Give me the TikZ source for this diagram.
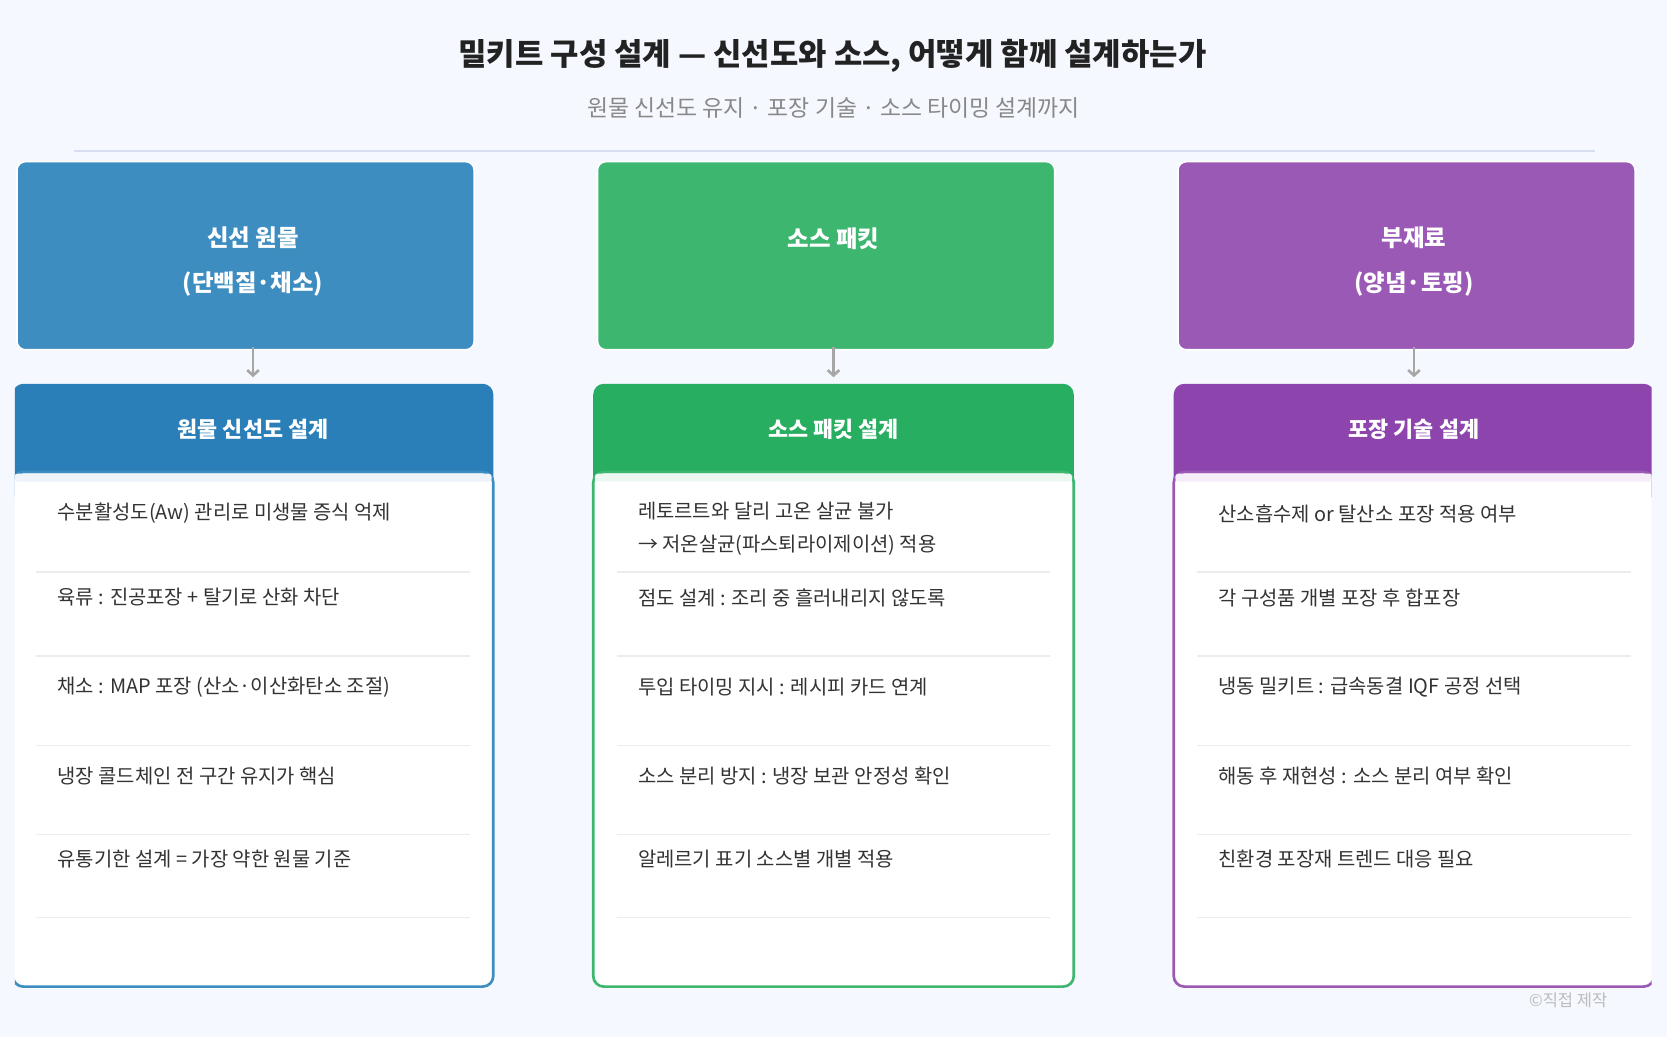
\documentclass[tikz,border=0pt]{standalone}
\usepackage{fontspec}
\setmainfont{Noto Sans CJK KR}
\usetikzlibrary{arrows.meta}
\definecolor{bgc}{HTML}{F5F8FE}
\definecolor{ttlc}{HTML}{222222}
\definecolor{subc}{HTML}{888888}
\definecolor{sepc}{HTML}{D6DEF0}
\definecolor{txtc}{HTML}{333333}
\definecolor{rowc}{HTML}{ECECEC}
\definecolor{arrc}{HTML}{A6A6A6}
\definecolor{footc}{HTML}{BBBBBB}
\definecolor{blueT}{HTML}{3E8DC1}
\definecolor{blueH}{HTML}{2A7FB8}
\definecolor{blueL}{HTML}{EEF4F9}
\definecolor{greenT}{HTML}{3DB670}
\definecolor{greenH}{HTML}{27AE60}
\definecolor{greenL}{HTML}{EDF8F1}
\definecolor{purpT}{HTML}{9B59B6}
\definecolor{purpH}{HTML}{8E44AD}
\definecolor{purpL}{HTML}{F5EEF8}
\tikzset{
  srcbox/.style={rectangle, rounded corners=8pt, draw=white, line width=1.5pt, minimum width=430pt, minimum height=177pt},
  srctext/.style={text=white, font=\bfseries\fontsize{22}{42}\selectfont, align=center},
  headbox/.style={rectangle, rounded corners=10pt, minimum width=452pt, minimum height=110pt},
  headtext/.style={text=white, font=\bfseries\fontsize{20.5}{24}\selectfont},
  bodycard/.style={rectangle, rounded corners=10pt, fill=white, line width=2.5pt, minimum width=452pt, minimum height=484pt},
  item/.style={anchor=west, inner sep=0pt, text=txtc, font=\fontsize{18.7}{31}\selectfont, align=left},
  rowline/.style={draw=rowc, line width=1.2pt},
  flow/.style={-{Straight Barb[length=5pt,width=11pt]}, draw=arrc, line width=2.5pt}
}
\begin{document}
\begin{tikzpicture}[x=1pt, y=-1pt]
\fill[bgc] (0,0) rectangle (1568,975);
\useasboundingbox (0,0) rectangle (1568,975);
\node[font=\bfseries\fontsize{29}{34}\selectfont, text=ttlc] (title) at (783,53) {밀키트 구성 설계 — 신선도와 소스, 어떻게 함께 설계하는가};
\node[font=\fontsize{21.5}{26}\selectfont, text=subc] (subtitle) at (784,102) {원물 신선도 유지 · 포장 기술 · 소스 타이밍 설계까지};
\draw[sepc, line width=2pt] (70,142) -- (1500,142);
\node[srcbox, fill=blueT] (boxA) at (231,240.5) {};
\node[srcbox, fill=greenT] (boxB) at (777,240.5) {};
\node[srcbox, fill=purpT] (boxC) at (1323,240.5) {};
\node[srctext] (srcA) at (238,246) {신선 원물\\(단백질·채소)};
\node[srctext] (srcB) at (784,225) {소스 패킷};
\node[srctext] (srcC) at (1330,246) {부재료\\(양념·토핑)};
\begin{scope}
\clip (14,0) rectangle (1553.5,975);
\node[headbox, fill=blueH] (headA) at (238,416) {};
\node[headbox, fill=greenH] (headB) at (784,416) {};
\node[headbox, fill=purpH] (headC) at (1330,416) {};
\node[bodycard, draw=blueT] (bodyA) at (238,686) {};
\node[bodycard, draw=greenT] (bodyB) at (784,686) {};
\node[bodycard, draw=purpT] (bodyC) at (1330,686) {};
\fill[blueL, rounded corners=3pt] (13.5,445.5) rectangle (462.5,453);
\fill[greenL, rounded corners=3pt] (559.5,445.5) rectangle (1008.5,453);
\fill[purpL, rounded corners=3pt] (1105.5,445.5) rectangle (1554.5,453);
\end{scope}
\node[headtext] (ttlA) at (238,404) {원물 신선도 설계};
\node[headtext] (ttlB) at (784,404) {소스 패킷 설계};
\node[headtext] (ttlC) at (1330,404) {포장 기술 설계};
\draw[flow] ([yshift=3pt]boxA.south -| headA.north) -- ([yshift=6pt]headA.north);
\draw[flow] ([yshift=3pt]boxB.south -| headB.north) -- ([yshift=6pt]headB.north);
\draw[flow] ([yshift=3pt]boxC.south -| headC.north) -- ([yshift=6pt]headC.north);
\foreach \cx in {238,784,1330}
  \foreach \ry in {538,617,701,785,863}
    \draw[rowline] (\cx-204,\ry) -- (\cx+204,\ry);
\node[item] (a1) at (54,483) {수분활성도(Aw) 관리로 미생물 증식 억제};
\node[item] (a2) at (54,562) {육류 : 진공포장 + 탈기로 산화 차단};
\node[item] (a3) at (54,646) {채소 : MAP 포장 (산소·이산화탄소 조절)};
\node[item] (a4) at (54,730) {냉장 콜드체인 전 구간 유지가 핵심};
\node[item] (a5) at (54,808) {유통기한 설계 = 가장 약한 원물 기준};
\node[item] (b1) at (600,497.5) {레토르트와 달리 고온 살균 불가\\→ 저온살균(파스퇴라이제이션) 적용};
\node[item] (b2) at (600,562) {점도 설계 : 조리 중 흘러내리지 않도록};
\node[item] (b3) at (600,646) {투입 타이밍 지시 : 레시피 카드 연계};
\node[item] (b4) at (600,730) {소스 분리 방지 : 냉장 보관 안정성 확인};
\node[item] (b5) at (600,808) {알레르기 표기 소스별 개별 적용};
\node[item] (c1) at (1146,483) {산소흡수제 or 탈산소 포장 적용 여부};
\node[item] (c2) at (1146,562) {각 구성품 개별 포장 후 합포장};
\node[item] (c3) at (1146,646) {냉동 밀키트 : 급속동결 IQF 공정 선택};
\node[item] (c4) at (1146,730) {해동 후 재현성 : 소스 분리 여부 확인};
\node[item] (c5) at (1146,808) {친환경 포장재 트렌드 대응 필요};
\node[font=\fontsize{15.5}{18}\selectfont, text=footc] (foot) at (1475,941) {©직접 제작};
\end{tikzpicture}
\end{document}
